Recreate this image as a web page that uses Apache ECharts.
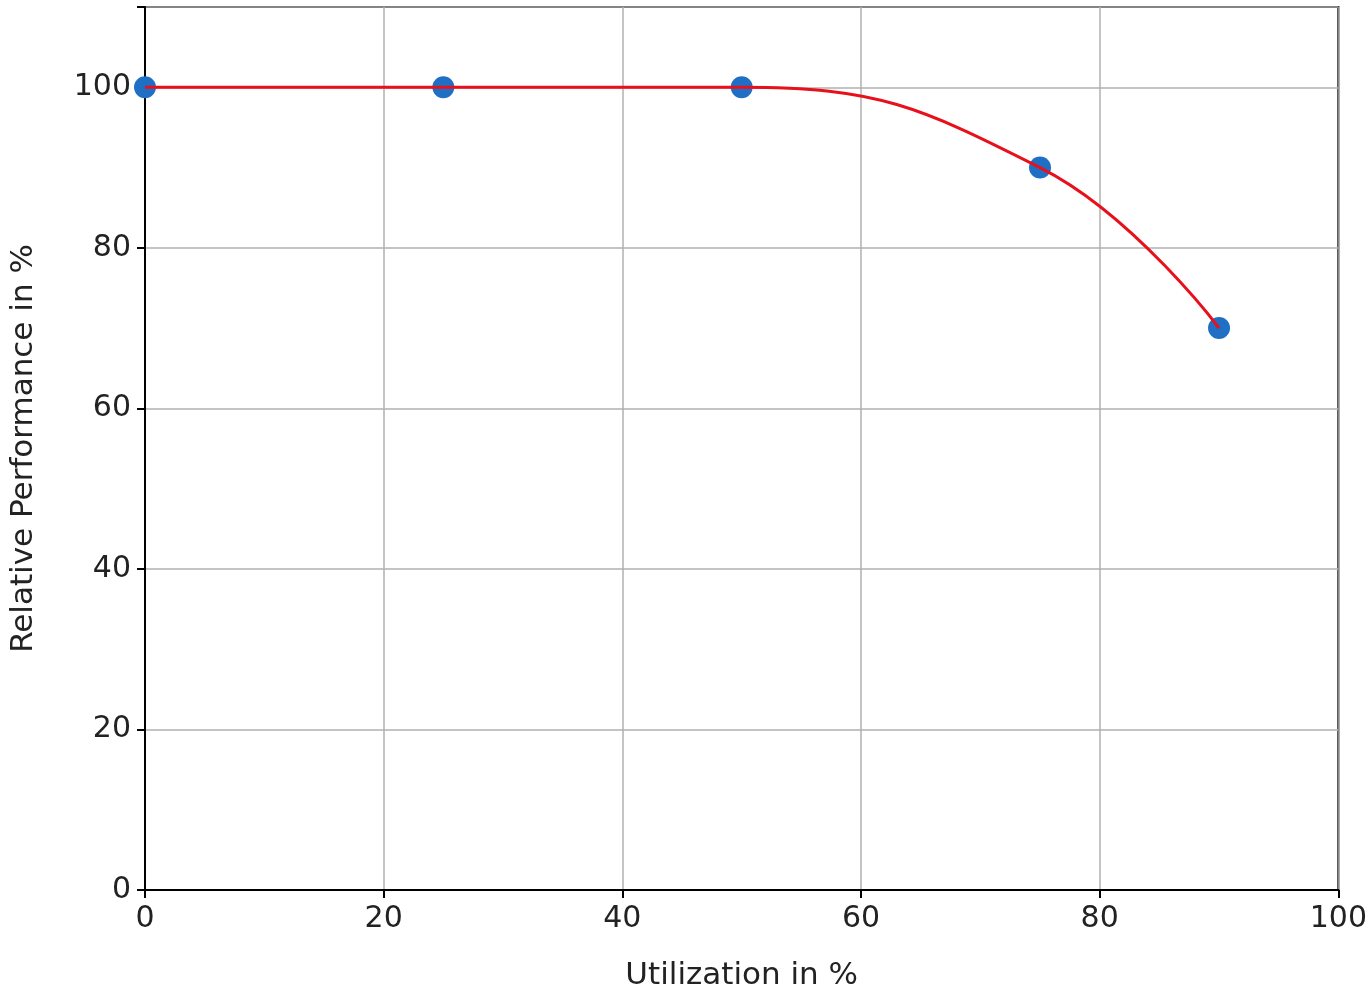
<!DOCTYPE html>
<html>
<head>
<meta charset="utf-8">
<script src="https://cdn.jsdelivr.net/npm/echarts@6/dist/echarts.min.js"></script>
<style>
    html, body { margin: 0; padding: 0; background: #fff; }
    #main { width: 1370px; height: 996px; }
</style>
</head>
<body>
<div id="main"></div>
<script>
    // 利用率 / 相对性能
    var utilization = [0, 25, 50, 75, 90];
    var performance = [100, 100, 100, 90, 70];
    var xTicks = [0, 20, 40, 60, 80, 100];
    var yTicks = [0, 20, 40, 60, 80, 100];

    var points = utilization.map(function (u, i) { return [u, performance[i]]; });
    var font = 'DejaVu Sans';

    var chart = echarts.init(document.getElementById('main'));
    chart.setOption({
        animation: false,
        grid: { left: 142, right: 31, top: 7, bottom: 99, show: true, borderColor: '#000', borderWidth: 2 },
        xAxis: {
            type: 'value', min: 0, max: 100, interval: 20,
            name: 'Utilization in %', nameLocation: 'middle', nameGap: 70,
            nameTextStyle: { fontFamily: font, fontSize: 31, color: '#222' },
            axisLine: { lineStyle: { color: '#000', width: 2 } },
            axisTick: { length: 8, lineStyle: { color: '#000', width: 2 } },
            axisLabel: { fontFamily: font, fontSize: 30, color: '#222', margin: 14 },
            splitLine: { lineStyle: { color: '#b0b0b0', width: 1.5 } }
        },
        yAxis: {
            type: 'value', min: 0, max: 110, interval: 20,
            name: 'Relative Performance in %', nameLocation: 'middle', nameGap: 106,
            nameTextStyle: { fontFamily: font, fontSize: 31, color: '#222' },
            axisLine: { lineStyle: { color: '#000', width: 2 } },
            axisTick: { length: 8, lineStyle: { color: '#000', width: 2 } },
            axisLabel: {
                fontFamily: font, fontSize: 30, color: '#222', margin: 14,
                formatter: function (v) { return yTicks.indexOf(v) >= 0 ? v : ''; }
            },
            splitLine: { lineStyle: { color: '#b0b0b0', width: 1.5 } }
        },
        series: [
            {
                type: 'scatter', data: points, symbolSize: 22, z: 2,
                itemStyle: { color: '#1f6fc4', opacity: 1 }
            },
            {
                type: 'line', data: points, smooth: 0.45, showSymbol: false, z: 3,
                lineStyle: { color: '#e8101a', width: 3 }
            }
        ]
    });
</script>
</body>
</html>
